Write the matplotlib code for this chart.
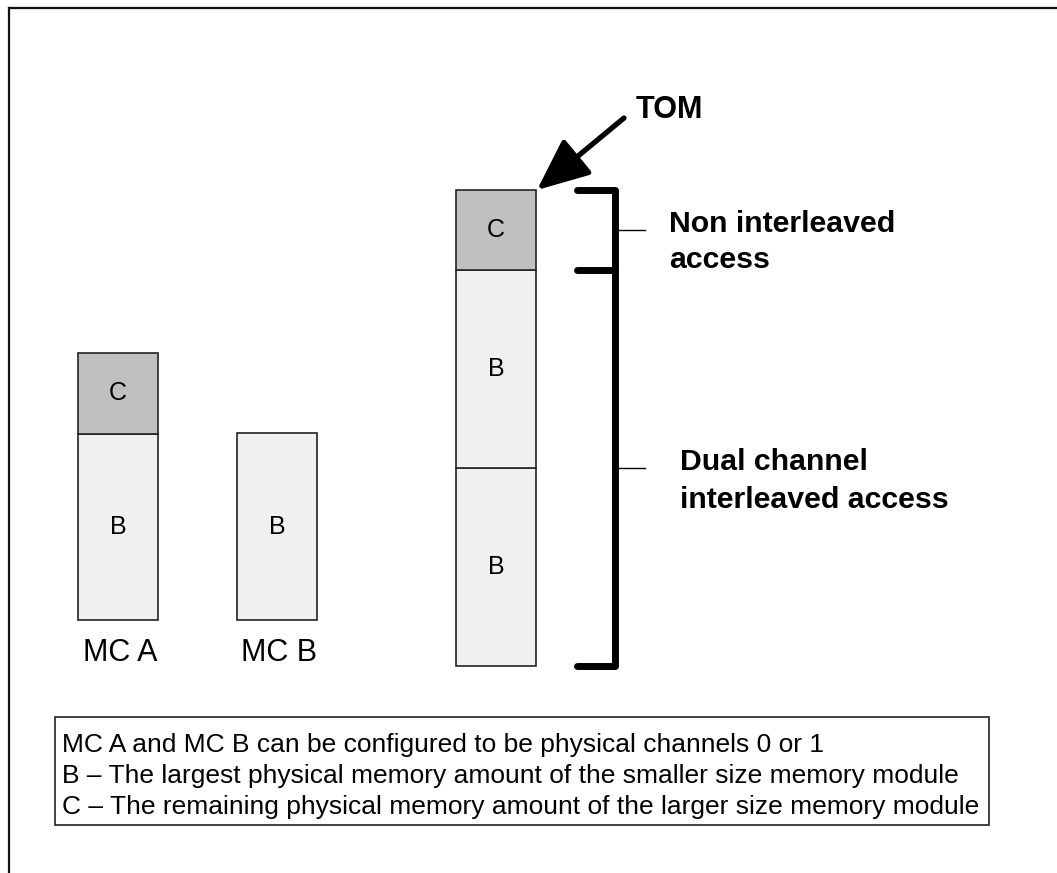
import matplotlib.pyplot as plt
from matplotlib.patches import Rectangle

plt.rcParams['font.family'] = ['Liberation Sans', 'DejaVu Sans']

# memory columns (bottom to top), sizes in drawing units
col_labels = ['MC A', 'MC B', '']
col_segments = [['B', 'C'], ['B'], ['B', 'B', 'C']]
col_sizes = [[186, 81], [187], [198, 198, 80]]
seg_colors = {'B': '#f0f0f0', 'C': '#c0c0c0'}

legend_lines = ['MC A and MC B can be configured to be physical channels 0 or 1',
                'B \u2013 The largest physical memory amount of the smaller size memory module',
                'C \u2013 The remaining physical memory amount of the larger size memory module']

# layout in pixels (y grows downward)
col_x = [118, 277, 496]
col_base = [620, 620, 666]
bar_w = 80

fig = plt.figure(figsize=(10.57, 8.73), dpi=100)
ax = fig.add_axes([0, 0, 1, 1])
ax.set_xlim(0, 1057)
ax.set_ylim(873, 0)
ax.axis('off')

# outer frame (only top and left visible)
ax.plot([9, 1057], [8, 8], color='#111111', lw=1.6)
ax.plot([9, 9], [8, 873], color='#111111', lw=1.6)

for x, base, segs, sizes, lab in zip(col_x, col_base, col_segments, col_sizes, col_labels):
    top = base
    for s, h in zip(segs, sizes):
        top -= h
        ax.bar(x, h, bottom=top, width=bar_w, color=seg_colors[s],
               edgecolor='#222222', linewidth=1.2)
        ax.text(x, top + h / 2, s, ha='center', va='center', fontsize=18)
    if lab:
        ax.text(x + 2, base + 41, lab, ha='center', va='baseline', fontsize=22)

# bracket on the right column
bx = 615
top_y = col_base[2] - sum(col_sizes[2])
mid_y = col_base[2] - sum(col_sizes[2][:2])
bot_y = col_base[2]
ax.plot([577, bx, bx, 577], [top_y, top_y, bot_y, bot_y], color='black', lw=5,
        solid_capstyle='round', solid_joinstyle='round')
ax.plot([577, bx], [mid_y, mid_y], color='black', lw=5, solid_capstyle='round')
ax.plot([bx, 645], [(top_y + mid_y) / 2, (top_y + mid_y) / 2], color='black', lw=1)
ax.plot([bx, 645], [(mid_y + bot_y) / 2, (mid_y + bot_y) / 2], color='black', lw=1)

ax.text(669, 232, 'Non interleaved', fontsize=21.8, fontweight='bold', va='baseline')
ax.text(669, 268, 'access', fontsize=21.8, fontweight='bold', va='baseline')
ax.text(680, 470, 'Dual channel', fontsize=21.8, fontweight='bold', va='baseline')
ax.text(680, 508, 'interleaved access', fontsize=21.8, fontweight='bold', va='baseline')

# TOM arrow
ax.text(636, 118, 'TOM', fontsize=22, fontweight='bold', va='baseline')
ax.annotate('', xy=(col_x[2] + bar_w / 2 + 1, top_y), xytext=(624, 118),
            arrowprops=dict(arrowstyle='-|>,head_length=1.6,head_width=0.7',
                            mutation_scale=20, color='black', lw=3.8,
                            shrinkA=0, shrinkB=0))

# legend box
ax.add_patch(Rectangle((55, 717), 934, 108, fill=False, edgecolor='#222222', lw=1.2))
for i, line in enumerate(legend_lines):
    ax.text(62, 752 + 31 * i, line, fontsize=19, va='baseline')

fig.savefig('out.png', dpi=100)
